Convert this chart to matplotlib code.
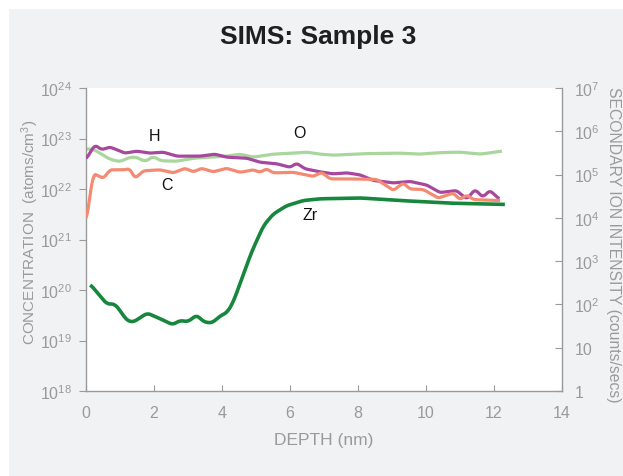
import matplotlib
matplotlib.use("Agg")
import matplotlib.pyplot as plt
import numpy as np
from matplotlib.patches import Rectangle

plt.rcParams['font.family'] = ['Liberation Sans', 'DejaVu Sans']
plt.rcParams['mathtext.fontset'] = 'custom'
plt.rcParams['mathtext.rm'] = 'Liberation Sans'
plt.rcParams['mathtext.it'] = 'Liberation Sans'
plt.rcParams['mathtext.bf'] = 'Liberation Sans:bold'

# ---- data (log10 values) ----
o_depth = [0.0, 0.21, 0.7, 1.0, 1.29, 1.49, 1.74, 1.98, 2.18, 2.67, 3.16, 3.65, 4.14, 4.53, 4.92,
           5.49, 6.1, 6.49, 6.88, 7.27, 8.2, 9.24, 9.8, 10.4, 11.0, 11.6, 12.23]
o_log = [22.79, 22.79, 22.59, 22.54, 22.63, 22.63, 22.54, 22.65, 22.56, 22.55, 22.61, 22.63, 22.65,
         22.69, 22.63, 22.69, 22.71, 22.73, 22.69, 22.67, 22.70, 22.71, 22.69, 22.72, 22.73, 22.69, 22.75]

h_depth = [0.0, 0.26, 0.46, 0.71, 1.15, 1.49, 1.88, 2.27, 2.67, 3.35, 3.79, 4.14, 4.73, 5.12, 5.61,
           6.0, 6.2, 6.44, 6.88, 7.27, 7.67, 8.06, 8.45, 9.04, 9.53, 10.02, 10.41, 10.9, 11.2,
           11.44, 11.67, 11.88, 12.16]
h_log = [22.59, 22.87, 22.78, 22.83, 22.71, 22.75, 22.71, 22.73, 22.65, 22.65, 22.69, 22.63, 22.61,
         22.53, 22.50, 22.43, 22.51, 22.40, 22.34, 22.30, 22.32, 22.28, 22.17, 22.12, 22.15, 22.08,
         21.93, 21.97, 21.80, 21.99, 21.84, 21.97, 21.80]

c_depth = [0.0, 0.12, 0.21, 0.31, 0.51, 0.71, 1.1, 1.29, 1.44, 1.69, 2.18, 2.57, 2.91, 3.16, 3.4,
           3.74, 4.14, 4.53, 4.92, 5.12, 5.31, 5.51, 6.1, 6.69, 6.93, 7.18, 7.76, 8.55, 9.04, 9.33,
           9.53, 9.92, 10.36, 10.8, 11.0, 11.2, 11.4, 12.18]
c_log = [21.34, 21.87, 22.30, 22.28, 22.21, 22.38, 22.38, 22.40, 22.21, 22.36, 22.38, 22.32, 22.41,
         22.34, 22.41, 22.34, 22.41, 22.33, 22.38, 22.33, 22.40, 22.32, 22.33, 22.25, 22.33, 22.20,
         22.20, 22.19, 21.97, 22.12, 22.00, 21.99, 21.82, 21.92, 21.79, 21.88, 21.79, 21.77]

zr_depth = [0.12, 0.61, 0.85, 1.0, 1.2, 1.39, 1.8, 2.18, 2.55, 2.76, 3.0, 3.26, 3.45, 3.7, 3.99,
            4.14, 4.33, 4.58, 4.87, 5.22, 5.51, 5.9, 6.39, 6.88, 8.06, 9.24, 10.7, 12.32]
zr_log = [2.47, 2.01, 2.01, 1.86, 1.63, 1.59, 1.80, 1.67, 1.53, 1.63, 1.60, 1.76, 1.60, 1.57, 1.76,
          1.80, 2.05, 2.59, 3.21, 3.82, 4.09, 4.28, 4.40, 4.44, 4.46, 4.40, 4.34, 4.31]

left_ticks = [1e18, 1e19, 1e20, 1e21, 1e22, 1e23, 1e24]
left_labels = [r'$\mathregular{10^{18}}$', r'$\mathregular{10^{19}}$', r'$\mathregular{10^{20}}$',
               r'$\mathregular{10^{21}}$', r'$\mathregular{10^{22}}$', r'$\mathregular{10^{23}}$',
               r'$\mathregular{10^{24}}$']
right_ticks = [1, 1e1, 1e2, 1e3, 1e4, 1e5, 1e6, 1e7]
right_labels = ['1', '10', r'$\mathregular{10^{2}}$', r'$\mathregular{10^{3}}$', r'$\mathregular{10^{4}}$',
                r'$\mathregular{10^{5}}$', r'$\mathregular{10^{6}}$', r'$\mathregular{10^{7}}$']
x_ticks = [0, 2, 4, 6, 8, 10, 12, 14]

def smooth(xs, ys, n=400, k=7):
    xs = np.asarray(xs, float); ys = np.asarray(ys, float)
    xf = np.linspace(xs[0], xs[-1], n)
    yf = np.interp(xf, xs, ys)
    w = np.ones(k) / k
    yp = np.pad(yf, (k // 2, k // 2), mode='edge')
    return xf, np.convolve(yp, w, mode='valid')

gray = '#9a9a9a'
fig = plt.figure(figsize=(6.23, 4.77), dpi=100)
fig.patch.set_facecolor('white')
fig.patches.append(Rectangle((9 / 623, 0), 1, 1 - 10 / 477, transform=fig.transFigure,
                             facecolor='#f1f2f4', edgecolor='none', zorder=-10))

ax = fig.add_axes([86 / 623, 85 / 477, 476 / 623, 303 / 477])
ax.set_facecolor('white')
ax2 = ax.twinx()

xo, yo = smooth(o_depth, o_log)
ax.plot(xo, 10 ** yo, color='#a9d69c', lw=2.3, solid_capstyle='butt', zorder=2)
xh, yh = smooth(h_depth, h_log, k=5)
ax.plot(xh, 10 ** yh, color='#a7479e', lw=2.3, solid_capstyle='butt', zorder=3)
xc, yc = smooth(c_depth, c_log, k=5)
ax.plot(xc, 10 ** yc, color='#f48a72', lw=2.3, solid_capstyle='butt', zorder=4)
xz, yz = smooth(zr_depth, zr_log)
ax2.plot(xz, 10 ** yz, color='#17873d', lw=2.6, solid_capstyle='butt')

ax.set_yscale('log')
ax.set_ylim(1e18, 1e24)
ax.set_xlim(0, 14)
ax2.set_yscale('log')
ax2.set_ylim(1, 1e7)

ax.set_yticks(left_ticks)
ax.set_yticklabels(left_labels)
ax.yaxis.set_minor_locator(matplotlib.ticker.NullLocator())
ax2.set_yticks(right_ticks)
ax2.set_yticklabels(right_labels)
ax2.yaxis.set_minor_locator(matplotlib.ticker.NullLocator())
ax.set_xticks(x_ticks)
ax.set_xticklabels([str(t) for t in x_ticks])

for a in (ax, ax2):
    for s in a.spines.values():
        s.set_color(gray)
        s.set_linewidth(1.0)
    a.spines['top'].set_visible(False)
ax.spines['right'].set_visible(False)
ax2.spines['left'].set_visible(False)
ax2.spines['bottom'].set_visible(False)

ax.tick_params(axis='y', direction='out', length=5, color=gray, labelcolor=gray, labelsize=11.5, pad=5)
ax.tick_params(axis='x', direction='in', length=4, color=gray, labelcolor=gray, labelsize=11.5, pad=10)
ax2.tick_params(axis='y', direction='in', length=5, color=gray, labelcolor=gray, labelsize=11.5, pad=9)

ax.set_xlabel('DEPTH (nm)', color=gray, fontsize=12.5, labelpad=9)

fig.text(30 / 623, 1 - 232 / 477, r'CONCENTRATION  (atoms/cm$\mathregular{^3}$)', color=gray,
         fontsize=11, rotation=90, ha='center', va='center', rotation_mode='anchor')
fig.text(613 / 623, 1 - 245 / 477, 'SECONDARY ION INTENSITY (counts/secs)', color=gray,
         fontsize=11.3, rotation=-90, ha='center', va='center', rotation_mode='anchor')

fig.text(318 / 623, 1 - 37 / 477, 'SIMS: Sample 3', ha='center', va='center',
         fontsize=19, fontweight='bold', color='#1f1f1f')

ax.text(2.0, 10 ** 23.05, 'H', fontsize=11.5, ha='center', va='center', color='#111')
ax.text(6.27, 10 ** 23.11, 'O', fontsize=11.5, ha='center', va='center', color='#111')
ax.text(2.37, 10 ** 22.08, 'C', fontsize=11.5, ha='center', va='center', color='#111')
ax.text(6.6, 10 ** 21.5, 'Zr', fontsize=11.5, ha='center', va='center', color='#111')

fig.savefig('out.png', dpi=100, facecolor=fig.get_facecolor())
